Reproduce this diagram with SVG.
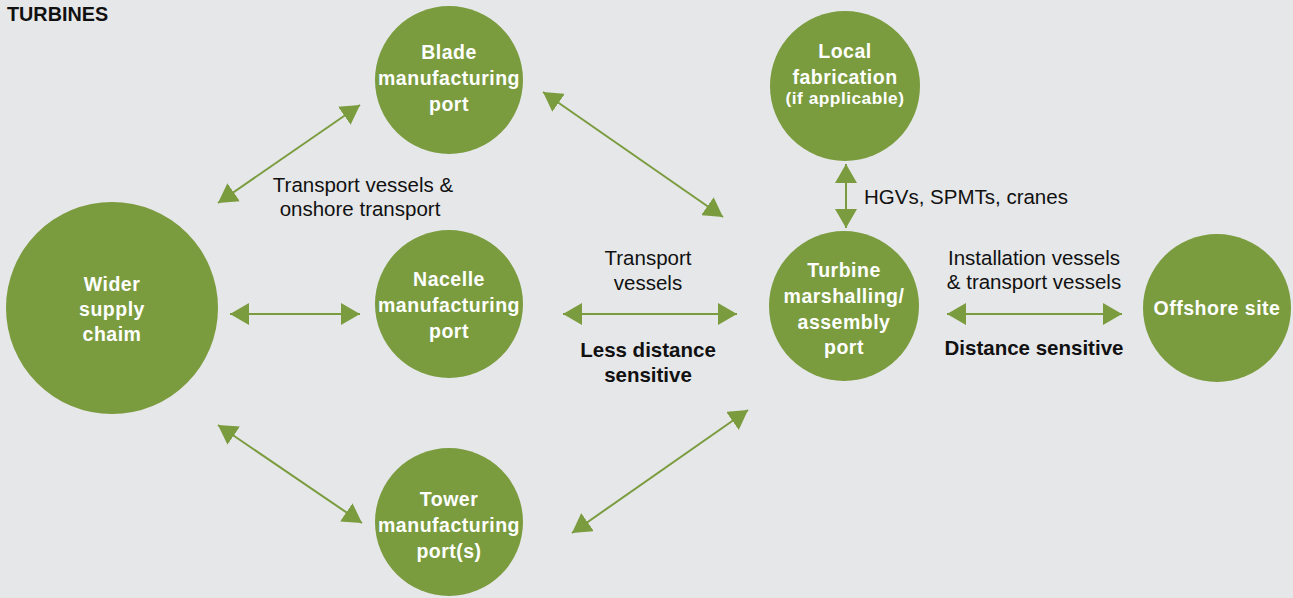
<svg xmlns="http://www.w3.org/2000/svg" width="1293" height="598" viewBox="0 0 1293 598">
<style>
.node{fill:#7a9c3e}
.nt{font-family:"Liberation Sans",Arial,sans-serif;font-weight:700;font-size:19.5px;letter-spacing:0.5px;fill:#ffffff;text-anchor:middle}
.sm{font-size:17.3px}
.lb{font-family:"Liberation Sans",Arial,sans-serif;font-size:20.5px;fill:#111111}
.bd{font-weight:700}
.mid{text-anchor:middle}
.conn{stroke:#7a9c3e;stroke-width:2;fill:none;marker-start:url(#ah);marker-end:url(#ah)}
</style>
<defs>
<marker id="ah" markerUnits="userSpaceOnUse" markerWidth="20" markerHeight="22" refX="19" refY="11" orient="auto-start-reverse" viewBox="0 0 20 22">
<path d="M0,0 L19,11 L0,22 z" fill="#7a9c3e"/>
</marker>
</defs>
<rect width="1293" height="598" fill="#e6e7e9"/>
<text class="lb bd" x="7" y="21" style="font-size:19.8px">TURBINES</text>
<g id="connectors">
<path class="conn" d="M218,203 L360,105"/>
<path class="conn" d="M543,92 L723,217"/>
<path class="conn" d="M230,314 L360,314"/>
<path class="conn" d="M563,314 L737,314"/>
<path class="conn" d="M947,314 L1122,314"/>
<path class="conn" d="M846,164 L846,228"/>
<path class="conn" d="M218,425 L362,523"/>
<path class="conn" d="M572,533 L748,410"/>
</g>
<g id="labels">
<text class="lb mid" x="363" y="192">Transport vessels &amp;</text>
<text class="lb mid" x="360" y="216">onshore transport</text>
<text class="lb" x="864" y="204">HGVs, SPMTs, cranes</text>
<text class="lb mid" x="648" y="265">Transport</text>
<text class="lb mid" x="648" y="290">vessels</text>
<text class="lb mid bd" x="648" y="357">Less distance</text>
<text class="lb mid bd" x="648" y="382">sensitive</text>
<text class="lb mid" x="1034" y="265">Installation vessels</text>
<text class="lb mid" x="1034" y="289">&amp; transport vessels</text>
<text class="lb mid bd" x="1034" y="355">Distance sensitive</text>
</g>
<g id="wider">
<circle class="node" cx="112" cy="308" r="106"/>
<text class="nt" x="112" y="291">Wider</text>
<text class="nt" x="112" y="316">supply</text>
<text class="nt" x="112" y="341">chaim</text>
</g>
<g id="blade">
<circle class="node" cx="449" cy="80" r="74"/>
<text class="nt" x="449" y="59">Blade</text>
<text class="nt" x="449" y="85">manufacturing</text>
<text class="nt" x="449" y="111">port</text>
</g>
<g id="nacelle">
<circle class="node" cx="449" cy="304" r="74"/>
<text class="nt" x="449" y="286">Nacelle</text>
<text class="nt" x="449" y="312">manufacturing</text>
<text class="nt" x="449" y="338">port</text>
</g>
<g id="tower">
<circle class="node" cx="449" cy="522" r="74"/>
<text class="nt" x="449" y="506">Tower</text>
<text class="nt" x="449" y="532">manufacturing</text>
<text class="nt" x="449" y="558">port(s)</text>
</g>
<g id="local">
<circle class="node" cx="845" cy="86" r="75"/>
<text class="nt" x="845" y="58">Local</text>
<text class="nt" x="845" y="84">fabrication</text>
<text class="nt sm" x="845" y="104">(if applicable)</text>
</g>
<g id="turbine">
<circle class="node" cx="844" cy="306" r="75"/>
<text class="nt" x="844" y="277">Turbine</text>
<text class="nt" x="844" y="303">marshalling/</text>
<text class="nt" x="844" y="329">assembly</text>
<text class="nt" x="844" y="354">port</text>
</g>
<g id="offshore">
<circle class="node" cx="1217" cy="308" r="74"/>
<text class="nt" x="1217" y="315">Offshore site</text>
</g>
</svg>
